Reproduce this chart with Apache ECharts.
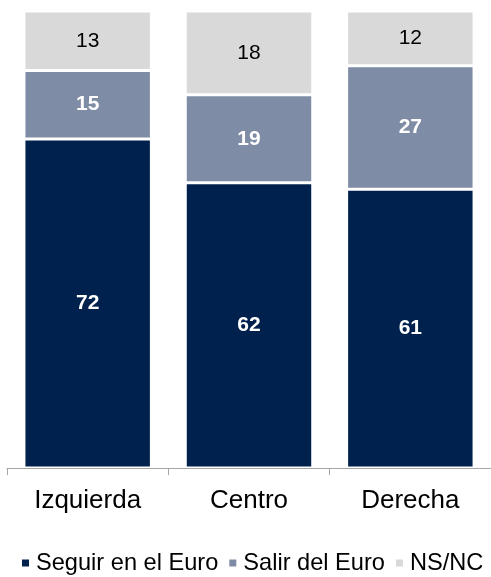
<!DOCTYPE html>
<html>
<head>
<meta charset="utf-8">
<script src="https://cdn.jsdelivr.net/npm/echarts@6/dist/echarts.min.js"></script>
<style>
  html, body { margin: 0; padding: 0; background: #fff; }
  #main { width: 491px; height: 577px; }
</style>
</head>
<body>
<div id="main"></div>
<script>
var categories = ["Izquierda", "Centro", "Derecha"];
// percentages (labels are rounded)
var seguir = [72, 62.4, 61];
var salir = [15, 19.3, 27];
var nsnc = [13, 18.3, 12];

var font = "Liberation Sans, Arial, sans-serif";

function serie(name, data, color, labelColor, bold) {
    return {
        name: name,
        type: "bar",
        stack: "total",
        data: data,
        barWidth: "79%",
        itemStyle: { color: color, borderColor: "#fff", borderWidth: 1.5 },
        label: {
            show: true,
            position: "inside",
            color: labelColor,
            fontFamily: font,
            fontSize: 21,
            fontWeight: bold ? "bold" : "normal",
            formatter: function (p) { return Math.round(p.value); }
        }
    };
}

var option = {
    animation: false,
    grid: { left: 7, top: 11, width: 486, bottom: 109 },
    legend: {
        top: 551,
        left: 20,
        width: 700,
        padding: 0,
        itemWidth: 9,
        itemHeight: 9,
        itemGap: 9,
        icon: "rect",
        textStyle: { fontFamily: font, fontSize: 23.6, color: "#000", padding: [2, 0, 0, 1] },
        data: ["Seguir en el Euro", "Salir del Euro", "NS/NC"]
    },
    xAxis: {
        type: "category",
        data: categories,
        axisLine: { lineStyle: { color: "#a6a6a6", width: 1 } },
        axisTick: { show: true, length: 7, lineStyle: { color: "#a6a6a6" } },
        axisLabel: { fontFamily: font, fontSize: 26, color: "#000", margin: 20 }
    },
    yAxis: {
        type: "value",
        min: 0,
        max: 100,
        show: false,
        splitLine: { show: false }
    },
    series: [
        serie("Seguir en el Euro", seguir, "#00214E", "#fff", true),
        serie("Salir del Euro", salir, "#7F8CA5", "#fff", true),
        serie("NS/NC", nsnc, "#D9D9D9", "#000", false)
    ]
};

echarts.init(document.getElementById("main")).setOption(option);
</script>
</body>
</html>
